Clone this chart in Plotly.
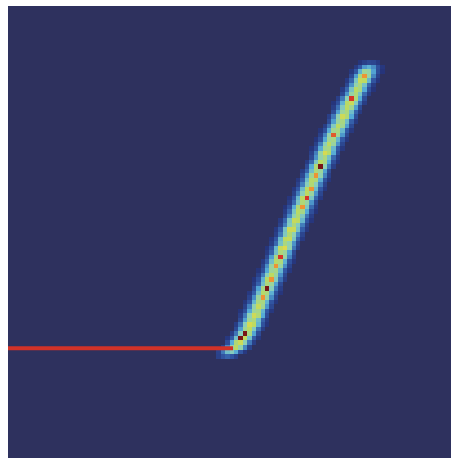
import numpy as np
import plotly.graph_objects as go

# Grid size of the density image (columns x rows)
N_COLS = 100
N_ROWS = 100

# Rows of the grid that carry the band, with the band's centre column and typical density per row
BAND_ROWS = list(range(22, 88))
BAND_CENTER = [
    49.0, 49.8, 51.0, 51.8, 52.5, 53.2, 53.8, 54.3, 54.7, 55.2,
    55.6, 56.1, 56.5, 57.0, 57.4, 57.8, 58.3, 58.7, 59.1, 59.6,
    60.0, 60.4, 60.9, 61.3, 61.7, 62.2, 62.6, 63.1, 63.5, 64.0,
    64.4, 64.9, 65.3, 65.7, 66.2, 66.6, 67.1, 67.5, 68.0, 68.4,
    68.9, 69.3, 69.8, 70.3, 70.8, 71.2, 71.6, 72.1, 72.6, 73.1,
    73.6, 74.2, 74.7, 75.2, 75.7, 76.2, 76.7, 77.2, 77.8, 78.3,
    78.8, 79.4, 79.9, 80.4, 80.9, 81.3,
]
BAND_PEAK = [
    0.20, 0.45, 0.58, 0.62, 0.62, 0.60, 0.58, 0.64, 0.55, 0.62,
    0.54, 0.60, 0.56, 0.60, 0.58, 0.60, 0.55, 0.62, 0.58, 0.54,
    0.60, 0.58, 0.62, 0.55, 0.66, 0.54, 0.62, 0.55, 0.64, 0.54,
    0.62, 0.55, 0.58, 0.60, 0.55, 0.62, 0.58, 0.60, 0.55, 0.58,
    0.60, 0.55, 0.62, 0.58, 0.54, 0.64, 0.55, 0.58, 0.54, 0.60,
    0.55, 0.58, 0.54, 0.62, 0.55, 0.58, 0.62, 0.62, 0.55, 0.58,
    0.54, 0.62, 0.62, 0.52, 0.35, 0.12,
]
BAND_SPREAD = 1.6  # cross-section width of the band, in cells

# Single hot cells on the band's ridge: row and density
HOT_ROWS = [26, 27, 35, 37, 39, 42, 44, 55, 57, 59, 62, 64, 71, 79, 84]
HOT_VALS = [1.00, 1.00, 0.80, 1.00, 0.80, 0.80, 0.90, 0.80, 0.90, 0.80, 0.80, 1.00, 0.86, 0.90, 0.80]

# Flat red reference segment
LINE_X = [0.0, 50.8]
LINE_Y = [24.3, 24.3]

NAVY = "rgb(46,49,94)"

# Build the density grid
z = np.zeros((N_ROWS, N_COLS))
cols = np.arange(N_COLS)
for r, c, p in zip(BAND_ROWS, BAND_CENTER, BAND_PEAK):
    row_vals = p * np.exp(-((cols - c) ** 2) / (2 * BAND_SPREAD ** 2))
    row_vals[row_vals < 0.04] = 0.0
    z[r] = np.maximum(z[r], row_vals)
for r, v in zip(HOT_ROWS, HOT_VALS):
    c = BAND_CENTER[BAND_ROWS.index(r)]
    z[r, int(round(c))] = v

colorscale = [
    [0.00, NAVY],
    [0.035, NAVY],
    [0.04, "rgb(38,52,122)"],
    [0.18, "rgb(50,88,165)"],
    [0.33, "rgb(85,170,215)"],
    [0.46, "rgb(140,208,185)"],
    [0.57, "rgb(185,218,100)"],
    [0.68, "rgb(236,218,68)"],
    [0.80, "rgb(238,148,52)"],
    [0.90, "rgb(214,52,40)"],
    [1.00, "rgb(120,20,22)"],
]

fig = go.Figure()
fig.add_trace(go.Heatmap(
    z=z, x0=0.5, dx=1, y0=0.5, dy=1,
    colorscale=colorscale, zmin=0, zmax=1,
    showscale=False, hoverinfo="skip",
))
fig.add_trace(go.Scatter(
    x=LINE_X, y=LINE_Y, mode="lines",
    line=dict(color="rgb(210,50,40)", width=4),
    showlegend=False, hoverinfo="skip",
))

fig.update_xaxes(range=[0, N_COLS], visible=False, showgrid=False, zeroline=False)
fig.update_yaxes(range=[0, N_ROWS], visible=False, showgrid=False, zeroline=False)
fig.update_layout(
    width=451, height=458,
    margin=dict(l=8, r=0, t=6, b=0),
    paper_bgcolor="white",
    plot_bgcolor=NAVY,
    showlegend=False,
)

fig.write_html("out.html")
